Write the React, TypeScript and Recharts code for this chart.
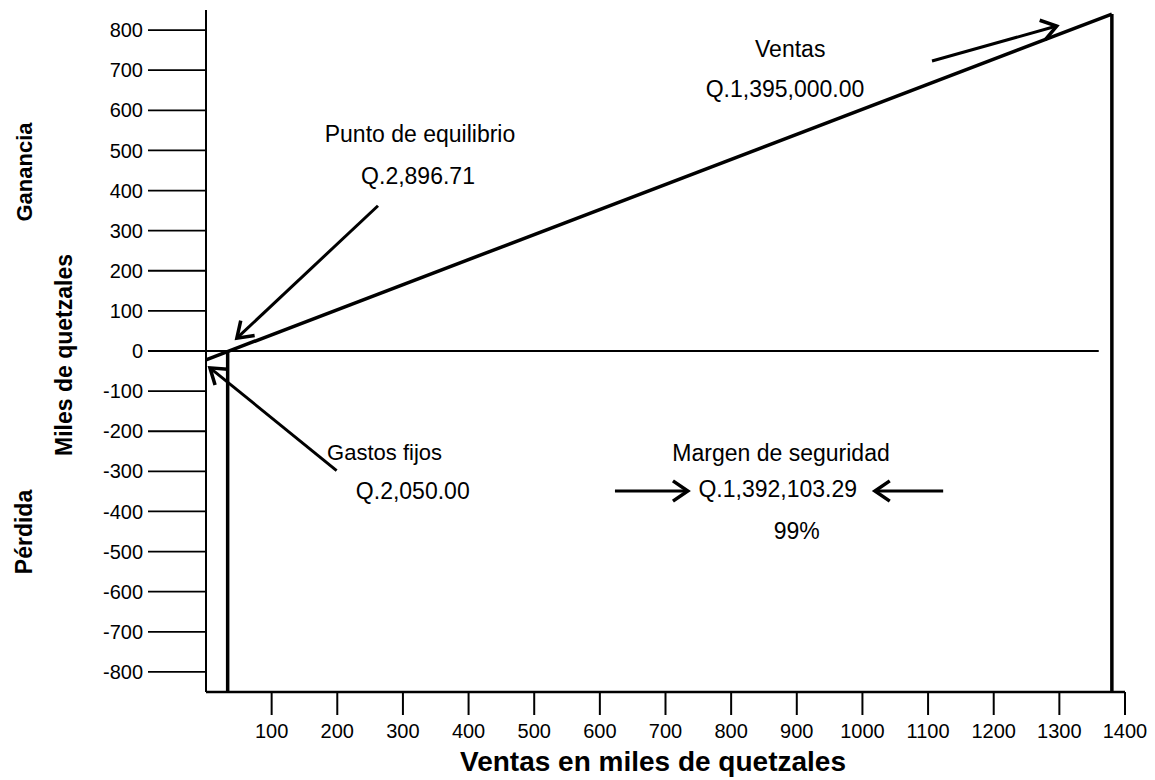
import React from "react";
import {
  LineChart,
  Line,
  XAxis,
  YAxis,
  ReferenceLine,
  ReferenceDot,
} from "recharts";

const FONT = "'Liberation Sans', Arial, Helvetica, sans-serif";

const X_TICKS = [100, 200, 300, 400, 500, 600, 700, 800, 900, 1000, 1100, 1200, 1300, 1400];
const Y_TICKS = [-800, -700, -600, -500, -400, -300, -200, -100, 0, 100, 200, 300, 400, 500, 600, 700, 800];

// lines (thousands of quetzales)
const ventasLine = [
  { x: 0, y: -22 },
  { x: 1380, y: 840 },
];
const zeroLine = [
  { x: 0, y: 0 },
  { x: 1360, y: 0 },
];
const equilibrioLine = [
  { x: 33, y: 0 },
  { x: 33, y: -850 },
];
const ventasEdge = [
  { x: 1380, y: 840 },
  { x: 1380, y: -850 },
];

// arrows: from tail to head
const arrows = [
  { from: { x: 1106, y: 723 }, to: { x: 1296, y: 810 } },
  { from: { x: 262, y: 362 }, to: { x: 47, y: 32 } },
  { from: { x: 199, y: -298 }, to: { x: 6, y: -42 } },
  { from: { x: 623, y: -349 }, to: { x: 734, y: -349 } },
  { from: { x: 1123, y: -349 }, to: { x: 1019, y: -349 } },
];

const notes = [
  { x: 890, y: 753, text: "Ventas", size: 23 },
  { x: 882, y: 653, text: "Q.1,395,000.00", size: 23 },
  { x: 326, y: 541, text: "Punto de equilibrio", size: 23 },
  { x: 323, y: 436, text: "Q.2,896.71", size: 23 },
  { x: 272, y: -252, text: "Gastos fijos", size: 22 },
  { x: 315, y: -349, text: "Q.2,050.00", size: 23 },
  { x: 876, y: -254, text: "Margen de seguridad", size: 23 },
  { x: 871, y: -344, text: "Q.1,392,103.29", size: 23 },
  { x: 900, y: -449, text: "99%", size: 23 },
];

const Arrow = (props: any) => {
  const { x1, y1, x2, y2 } = props;
  const ang = Math.atan2(y2 - y1, x2 - x1);
  const L = 18;
  const a = 0.6;
  const p1x = x2 - L * Math.cos(ang - a);
  const p1y = y2 - L * Math.sin(ang - a);
  const p2x = x2 - L * Math.cos(ang + a);
  const p2y = y2 - L * Math.sin(ang + a);
  return (
    <g>
      <line x1={x1} y1={y1} x2={x2} y2={y2} stroke="#000" strokeWidth={3} />
      <polyline
        points={`${p1x},${p1y} ${x2},${y2} ${p2x},${p2y}`}
        fill="none"
        stroke="#000"
        strokeWidth={3.5}
      />
    </g>
  );
};

const YTitles = () => {
  const rot = (x: number, y: number) => `rotate(-90, ${x}, ${y})`;
  return (
    <g fontFamily={FONT} fontWeight="bold" fill="#000">
      <text x={24} y={164} fontSize={22} textAnchor="middle" transform={rot(24, 164)}>
        Ganancia
      </text>
      <text x={64} y={347} fontSize={23} textAnchor="middle" transform={rot(64, 347)}>
        Miles de quetzales
      </text>
      <text x={24} y={524} fontSize={23} textAnchor="middle" transform={rot(24, 524)}>
        Pérdida
      </text>
    </g>
  );
};

const XTitle = () => (
  <text
    x={645}
    y={763}
    fontFamily={FONT}
    fontWeight="bold"
    fontSize={28}
    textAnchor="middle"
    fill="#000"
  >
    Ventas en miles de quetzales
  </text>
);

export default function App() {
  return (
    <LineChart
      width={1147}
      height={772}
      margin={{ top: 2, right: 30, bottom: 0, left: 0 }}
      style={{ fontFamily: FONT, background: "#fff" }}
    >
      <XAxis
        type="number"
        dataKey="x"
        domain={[0, 1400]}
        ticks={X_TICKS}
        interval={0}
        height={88}
        tickSize={23}
        tickMargin={9}
        axisLine={{ stroke: "#000", strokeWidth: 2.5 }}
        tickLine={{ stroke: "#000", strokeWidth: 2 }}
        tick={{ fontSize: 20, fill: "#000", fontFamily: FONT }}
        allowDataOverflow
        label={{ content: () => <XTitle /> }}
      />
      <YAxis
        type="number"
        dataKey="y"
        domain={[-850, 850]}
        ticks={Y_TICKS}
        interval={0}
        width={198}
        tickSize={58}
        tickMargin={5}
        axisLine={{ stroke: "#000", strokeWidth: 2 }}
        tickLine={{ stroke: "#000", strokeWidth: 1.8 }}
        tick={{ fontSize: 20, fill: "#000", fontFamily: FONT }}
        allowDataOverflow
        label={{ content: () => <YTitles /> }}
      />
      <Line data={zeroLine} dataKey="y" stroke="#000" strokeWidth={2.2} dot={false} isAnimationActive={false} />
      <Line data={ventasLine} dataKey="y" stroke="#000" strokeWidth={3.5} dot={false} isAnimationActive={false} />
      <Line data={equilibrioLine} dataKey="y" stroke="#000" strokeWidth={3.5} dot={false} isAnimationActive={false} />
      <Line data={ventasEdge} dataKey="y" stroke="#000" strokeWidth={3.5} dot={false} isAnimationActive={false} />
      {arrows.map((a, i) => (
        <ReferenceLine
          key={`arrow-${i}`}
          segment={[a.from, a.to]}
          ifOverflow="visible"
          shape={(p: any) => <Arrow {...p} />}
        />
      ))}
      {notes.map((n, i) => (
        <ReferenceDot
          key={`note-${i}`}
          x={n.x}
          y={n.y}
          r={0}
          ifOverflow="visible"
          shape={(p: any) => (
            <text
              x={p.cx}
              y={p.cy}
              dy="0.36em"
              textAnchor="middle"
              fontSize={n.size}
              fontFamily={FONT}
              fill="#000"
            >
              {n.text}
            </text>
          )}
        />
      ))}
    </LineChart>
  );
}
